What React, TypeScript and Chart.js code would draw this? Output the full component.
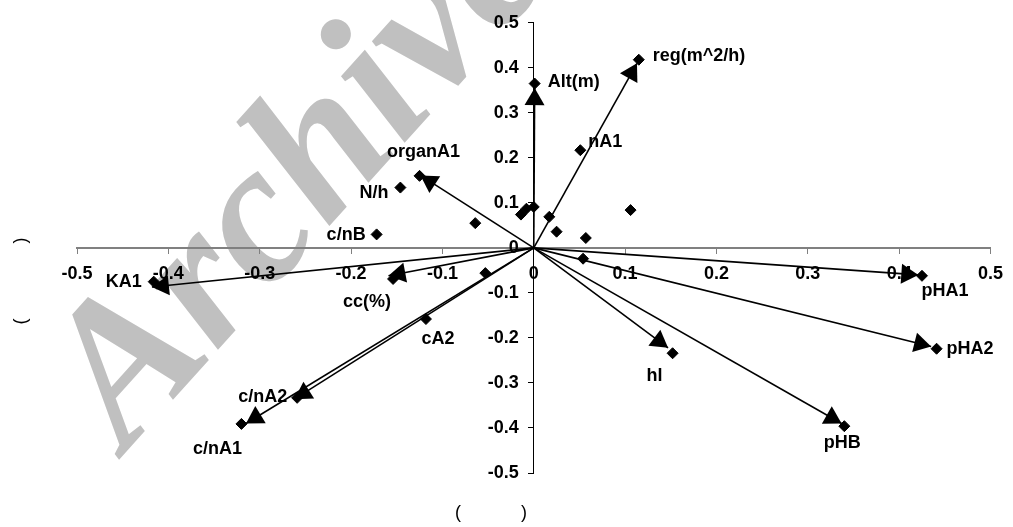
import React, { useEffect, useRef } from 'react';
import { Chart, registerables } from 'chart.js';

Chart.register(...registerables);

// ---- data ----
const pointNames = [
  'reg(m^2/h)', 'Alt(m)', 'nA1', '', '', '', '', '', '', '', '',
  'organA1', 'N/h', 'c/nB', 'KA1', 'cc(%)', '', 'cA2', 'c/nA2', 'c/nA1',
  '', 'pHA1', 'pHA2', 'hl', 'pHB',
];
const pointX = [
  0.115, 0.001, 0.051, 0.106, 0.0, -0.014, -0.008, 0.017, 0.025, 0.057, -0.064,
  -0.125, -0.146, -0.172, -0.416, -0.154, -0.053, -0.118, -0.259, -0.32,
  0.054, 0.425, 0.441, 0.152, 0.34,
];
const pointY = [
  0.418, 0.365, 0.217, 0.084, 0.091, 0.074, 0.087, 0.069, 0.036, 0.022, 0.055,
  0.16, 0.134, 0.03, -0.075, -0.069, -0.056, -0.158, -0.333, -0.391,
  -0.024, -0.062, -0.224, -0.234, -0.396,
];

const arrowNames = ['Alt(m)', 'reg(m^2/h)', 'organA1', 'KA1', 'cc(%)', 'c/nA2', 'c/nA1', 'pHA1', 'pHA2', 'hl', 'pHB'];
const arrowX = [0.001, 0.113, -0.124, -0.418, -0.159, -0.262, -0.315, 0.421, 0.435, 0.147, 0.337];
const arrowY = [0.355, 0.41, 0.161, -0.087, -0.062, -0.336, -0.39, -0.06, -0.219, -0.222, -0.39];

const axisMin = -0.5;
const axisMax = 0.5;
const axisStep = 0.1;

const xTitle = '(            )';
const yTitle = '(               )';
const watermark = 'Archive';

// ---- label placement (pixel offsets from each point; style only) ----
const labelPlacement: Record<string, { dx: number; dy: number; align: CanvasTextAlign }> = {
  'reg(m^2/h)': { dx: 14, dy: -4, align: 'left' },
  'Alt(m)': { dx: 13, dy: -2, align: 'left' },
  nA1: { dx: 8, dy: -8, align: 'left' },
  organA1: { dx: 4, dy: -24, align: 'center' },
  'N/h': { dx: -12, dy: 5, align: 'right' },
  'c/nB': { dx: -11, dy: 1, align: 'right' },
  KA1: { dx: -12, dy: 0, align: 'right' },
  'cc(%)': { dx: -26, dy: 23, align: 'center' },
  cA2: { dx: 12, dy: 20, align: 'center' },
  'c/nA2': { dx: -10, dy: -1, align: 'right' },
  'c/nA1': { dx: -24, dy: 25, align: 'center' },
  pHA1: { dx: 23, dy: 15, align: 'center' },
  pHA2: { dx: 10, dy: 0, align: 'left' },
  hl: { dx: -18, dy: 23, align: 'center' },
  pHB: { dx: -2, dy: 17, align: 'center' },
};

const FAMILY = '"Liberation Sans", Arial, sans-serif';
const LABEL_FONT = `bold 18px ${FAMILY}`;

const overlayPlugin = {
  id: 'overlay',
  beforeDraw(chart: any) {
    const ctx = chart.ctx as CanvasRenderingContext2D;
    ctx.save();
    ctx.fillStyle = '#ffffff';
    ctx.fillRect(0, 0, chart.width, chart.height);
    ctx.translate(126, 452);
    ctx.rotate((-48 * Math.PI) / 180);
    ctx.font = 'italic bold 200px "Liberation Serif", "Times New Roman", serif';
    ctx.fillStyle = '#c0c0c0';
    ctx.textBaseline = 'alphabetic';
    ctx.fillText(watermark, 0, 0);
    ctx.restore();
  },
  beforeDatasetsDraw(chart: any) {
    const ctx = chart.ctx as CanvasRenderingContext2D;
    const meta = chart.getDatasetMeta(0);
    ctx.save();
    ctx.font = LABEL_FONT;
    ctx.fillStyle = '#000000';
    ctx.textBaseline = 'middle';
    pointNames.forEach((name, i) => {
      if (!name) return;
      const pl = labelPlacement[name];
      const el = meta.data[i];
      if (!pl || !el) return;
      ctx.textAlign = pl.align;
      ctx.fillText(name, el.x + pl.dx, el.y + pl.dy);
    });
    // axis titles
    ctx.font = `18px ${FAMILY}`;
    ctx.textAlign = 'center';
    ctx.fillText(xTitle, 491, 513);
    ctx.translate(21, 281);
    ctx.rotate(-Math.PI / 2);
    ctx.fillText(yTitle, 0, 0);
    ctx.restore();
  },
  afterDatasetsDraw(chart: any) {
    const ctx = chart.ctx as CanvasRenderingContext2D;
    ctx.save();
    ctx.fillStyle = '#000000';
    chart.data.datasets.forEach((ds: any, i: number) => {
      if (!ds.isArrow) return;
      const meta = chart.getDatasetMeta(i);
      const p0 = meta.data[0];
      const p1 = meta.data[1];
      if (!p0 || !p1) return;
      const a = Math.atan2(p1.y - p0.y, p1.x - p0.x);
      const L = 17;
      const W = 10;
      const c = Math.cos(a);
      const s = Math.sin(a);
      ctx.beginPath();
      ctx.moveTo(p1.x, p1.y);
      ctx.lineTo(p1.x - L * c + W * s, p1.y - L * s - W * c);
      ctx.lineTo(p1.x - L * c - W * s, p1.y - L * s + W * c);
      ctx.closePath();
      ctx.fill();
    });
    ctx.restore();
  },
};

const fmt = (v: any) => String(Math.round(Number(v) * 10) / 10);
// y labels sit right-aligned on the centred axis; trailing spaces keep the gap to the tick marks
const fmtY = (v: any) => fmt(v) + '   ';

export default function App() {
  const ref = useRef<HTMLCanvasElement | null>(null);

  useEffect(() => {
    document.body.style.margin = '0';
    const canvas = ref.current;
    if (!canvas) return;

    const pointData = pointX.map((x, i) => ({ x, y: pointY[i] }));
    const arrowSets = arrowNames.map((name, i) => ({
      label: name,
      isArrow: true,
      data: [
        { x: 0, y: 0 },
        { x: arrowX[i], y: arrowY[i] },
      ],
      showLine: true,
      borderColor: '#000000',
      borderWidth: 1.6,
      pointRadius: 0,
      pointHoverRadius: 0,
      fill: false,
    }));

    const chart = new Chart(canvas, {
      type: 'scatter',
      data: {
        datasets: [
          {
            label: 'points',
            data: pointData,
            pointStyle: 'rectRot',
            pointRadius: 5.5,
            pointBackgroundColor: '#000000',
            pointBorderColor: '#000000',
            pointBorderWidth: 1,
            showLine: false,
          } as any,
          ...(arrowSets as any[]),
        ],
      },
      options: {
        animation: false,
        responsive: false,
        devicePixelRatio: 1,
        events: [],
        layout: { padding: { left: 77, right: 19, top: 22, bottom: 54 } },
        plugins: {
          legend: { display: false },
          tooltip: { enabled: false },
          title: { display: false },
        },
        scales: {
          x: {
            type: 'linear',
            position: { y: 0 } as any,
            min: axisMin,
            max: axisMax,
            ticks: {
              stepSize: axisStep,
              callback: fmt,
              color: '#000000',
              font: { family: FAMILY, size: 18, weight: 'bold' },
              padding: 10,
              maxRotation: 0,
              autoSkip: false,
            },
            grid: { drawOnChartArea: false, drawTicks: true, tickLength: 5, color: '#808080', lineWidth: 1 },
            border: { display: true, color: '#808080', width: 2 },
          },
          y: {
            type: 'linear',
            position: { x: 0 } as any,
            min: axisMin,
            max: axisMax,
            ticks: {
              stepSize: axisStep,
              callback: fmtY,
              color: '#000000',
              font: { family: FAMILY, size: 18, weight: 'bold' },
              padding: 12,
              autoSkip: false,
            },
            grid: { drawOnChartArea: false, drawTicks: true, tickLength: 5, color: '#000000', lineWidth: 1 },
            border: { display: true, color: '#000000', width: 1 },
          },
        },
      } as any,
      plugins: [overlayPlugin as any],
    });

    return () => chart.destroy();
  }, []);

  return (
    <div style={{ position: 'absolute', left: 0, top: 0, width: 1013, height: 527, background: '#fff' }}>
      <canvas ref={ref} width={1013} height={527} style={{ display: 'block' }} />
    </div>
  );
}
